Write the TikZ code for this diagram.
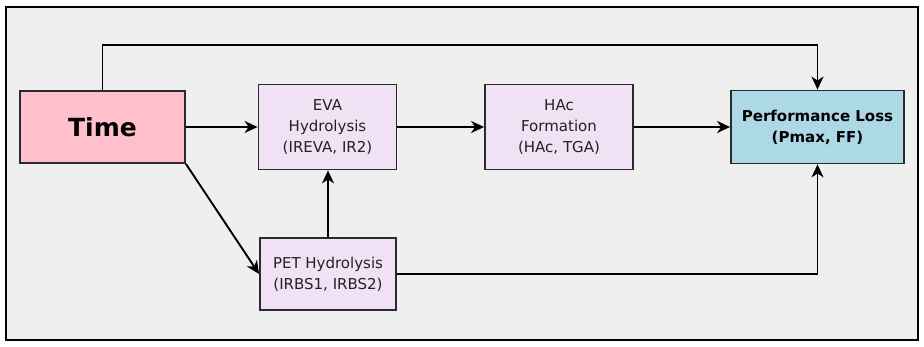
\documentclass[tikz,border=0pt]{standalone}
\usepackage{fontspec}
\setmainfont{DejaVu Sans}
\usetikzlibrary{arrows.meta}
\definecolor{panelbg}{HTML}{EFEFEF}
\definecolor{timefill}{HTML}{FFC0CB}
\definecolor{procfill}{HTML}{F0E1F4}
\definecolor{lossfill}{HTML}{ADD8E6}
\definecolor{edgecol}{HTML}{2A2A2A}
\definecolor{txtcol}{HTML}{222222}
\tikzset{
  box/.style={draw=edgecol, line width=1.8pt, inner sep=0pt, align=center,
    text=txtcol, font=\fontsize{15}{21}\selectfont},
  proc/.style={box, fill=procfill},
  link/.style={draw=black, line width=1.9pt,
    -{Stealth[length=13pt, width=12pt, inset=4pt]}},
}
\begin{document}
\begin{tikzpicture}[x=1pt, y=-1pt]
\useasboundingbox (0,0) rectangle (924,347);
\draw[fill=panelbg, line width=2.2pt] (6,7) rectangle (918,340);

\node[box, fill=timefill, text=black, minimum width=165pt, minimum height=72pt,
  font=\fontsize{25}{28}\selectfont\bfseries] (time) at (102.5,127) {Time};
\node[proc, minimum width=138pt, minimum height=85pt] (eva) at (327.5,127)
  {EVA\\Hydrolysis\\(IREVA, IR2)};
\node[proc, minimum width=136pt, minimum height=72pt] (pet) at (328,274)
  {PET Hydrolysis\\(IRBS1, IRBS2)};
\node[proc, minimum width=148pt, minimum height=85pt] (hac) at (559,127)
  {HAc\\Formation\\(HAc, TGA)};
\node[box, fill=lossfill, text=black, minimum width=173pt, minimum height=73pt,
  font=\fontsize{15}{21}\selectfont\bfseries] (loss) at (817.5,127)
  {Performance Loss\\(Pmax, FF)};

\coordinate (topl) at (102.5,45);
\coordinate (topr) at (817.5,45);

\draw[link] (time.north) -- (topl) -- (topr) -- (loss.north);
\draw[link] (time.east) -- (eva.west);
\draw[link] (time.south east) -- (pet.west);
\draw[link] (pet.north) -- (pet.north |- eva.south);
\draw[link] (eva.east) -- (hac.west);
\draw[link] (hac.east) -- (loss.west);
\draw[link] (pet.east) -| (loss.south);
\end{tikzpicture}
\end{document}
